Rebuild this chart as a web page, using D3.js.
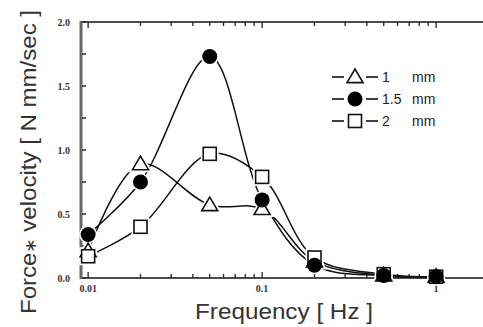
<!DOCTYPE html>
<html>
<head>
<meta charset="utf-8">
<script src="https://cdn.jsdelivr.net/npm/d3@7"></script>
<style>
  body { margin: 0; background: #fff; }
  svg { display: block; }
</style>
</head>
<body>
<div id="chart"></div>
<script>
// data
const freq = [0.01, 0.02, 0.05, 0.1, 0.2, 0.5, 1];
const mm1 = [0.21, 0.89, 0.57, 0.54, 0.13, 0.02, 0.01];
const mm15 = [0.34, 0.75, 1.73, 0.61, 0.10, 0.02, 0.01];
const mm2 = [0.17, 0.40, 0.97, 0.79, 0.16, 0.03, 0.01];
const seriesNames = ["1", "1.5", "2"];
const xTicks = [0.01, 0.1, 1];
const yTicks = [0, 0.5, 1.0, 1.5, 2.0];

const W = 483, H = 327;
const margin = {top: 22, right: 0, bottom: 50, left: 81};

const svg = d3.select("#chart").append("svg")
    .attr("width", W).attr("height", H);

const x = d3.scaleLog().domain([0.0091, 1.86]).range([margin.left, W - margin.right]);
const y = d3.scaleLinear().domain([0, 2]).range([H - margin.bottom + 1, margin.top]);

// minor ticks on log axis
const minor = [];
[0.01, 0.1, 1].forEach(d => { for (let k = 1; k < 10; k++) { const v = d * k; if (v <= 1.86) minor.push(v); } });

// bottom axis
svg.append("line").attr("x1", margin.left).attr("x2", W).attr("y1", y(0)).attr("y2", y(0))
    .attr("stroke", "#111").attr("stroke-width", 1.6);
// top axis
svg.append("line").attr("x1", margin.left).attr("x2", W).attr("y1", margin.top).attr("y2", margin.top)
    .attr("stroke", "#111").attr("stroke-width", 1.6);

svg.append("g").selectAll("line").data(minor).join("line")
    .attr("x1", d => x(d)).attr("x2", d => x(d))
    .attr("y1", y(0)).attr("y2", d => y(0) - (xTicks.includes(d) ? 6 : 4))
    .attr("stroke", "#222").attr("stroke-width", 1.3);
svg.append("g").selectAll("line").data(minor).join("line")
    .attr("x1", d => x(d)).attr("x2", d => x(d))
    .attr("y1", margin.top).attr("y2", d => margin.top + (xTicks.includes(d) ? 6 : 4))
    .attr("stroke", "#222").attr("stroke-width", 1.3);

svg.append("g").selectAll("text").data(xTicks).join("text")
    .attr("x", d => x(d)).attr("y", y(0) + 14)
    .attr("text-anchor", "middle")
    .attr("font-family", "Liberation Serif, serif").attr("font-weight", "bold")
    .attr("font-size", 10).attr("fill", "#333")
    .text(d => d);

// left axis
const yMinor = d3.range(0, 2.01, 0.25);
svg.append("g").selectAll("line").data(yMinor).join("line")
    .attr("x1", margin.left).attr("x2", margin.left + 5)
    .attr("y1", d => y(d)).attr("y2", d => y(d))
    .attr("stroke", "#222").attr("stroke-width", 1.5);
svg.append("line").attr("x1", margin.left).attr("x2", margin.left)
    .attr("y1", margin.top - 1).attr("y2", y(0) + 1)
    .attr("stroke", "#666").attr("stroke-width", 3);
svg.append("g").selectAll("text").data(yTicks).join("text")
    .attr("x", margin.left - 11).attr("y", d => y(d) + 3.5)
    .attr("text-anchor", "end")
    .attr("font-family", "Liberation Serif, serif").attr("font-weight", "bold")
    .attr("font-size", 10).attr("fill", "#333")
    .text(d => d.toFixed(1));

// axis titles
svg.append("text").attr("x", 284).attr("y", 319)
    .attr("text-anchor", "middle")
    .attr("font-family", "Liberation Sans, Arial, sans-serif")
    .attr("font-size", 22).attr("fill", "#333")
    .attr("textLength", 178).attr("lengthAdjust", "spacingAndGlyphs")
    .text("Frequency [ Hz ]");
const yt = svg.append("text")
    .attr("transform", "translate(36,162) rotate(-90)")
    .attr("text-anchor", "middle")
    .attr("font-family", "Liberation Sans, Arial, sans-serif")
    .attr("font-size", 22).attr("fill", "#333")
    .attr("textLength", 304).attr("lengthAdjust", "spacingAndGlyphs");
yt.append("tspan").text("Force");
yt.append("tspan").attr("font-size", 16).text("\u2217");
yt.append("tspan").text(" velocity [ N mm/sec ]");

// curves
const line = d3.line()
    .x(d => x(d[0])).y(d => y(d[1]))
    .curve(d3.curveCatmullRom.alpha(0.5));

const series = [
  {name: seriesNames[0], vals: mm1, shape: "tri"},
  {name: seriesNames[1], vals: mm15, shape: "circ"},
  {name: seriesNames[2], vals: mm2, shape: "sq"}
];

series.forEach(s => {
  svg.append("path")
      .datum(freq.map((f, i) => [f, s.vals[i]]))
      .attr("fill", "none").attr("stroke", "#111").attr("stroke-width", 1.5)
      .attr("d", line);
});

function marker(g, shape, cx, cy, halo) {
  const stroke = halo ? "#fff" : "#111";
  const sw = halo ? 5 : 1.6;
  if (shape === "circ") {
    g.append("circle").attr("cx", cx).attr("cy", cy).attr("r", halo ? 9 : 7.5)
        .attr("fill", halo ? "#fff" : "#000");
  } else if (shape === "sq") {
    g.append("rect").attr("x", cx - 6.5).attr("y", cy - 6.5).attr("width", 13).attr("height", 13)
        .attr("fill", "#fff").attr("stroke", stroke).attr("stroke-width", sw);
  } else {
    const r = 8;
    g.append("path")
        .attr("d", `M${cx},${cy - r}L${cx + r},${cy + r * 0.7}L${cx - r},${cy + r * 0.7}Z`)
        .attr("fill", "#fff").attr("stroke", stroke).attr("stroke-width", sw)
        .attr("stroke-linejoin", "miter");
  }
}

const mk = svg.append("g");
// halos first to make the little gaps round the markers
const order = [0, 2, 1];
order.forEach(si => {
  const s = series[si];
  freq.forEach((f, i) => marker(mk, s.shape, x(f), y(s.vals[i]), true));
});
order.forEach(si => {
  const s = series[si];
  freq.forEach((f, i) => marker(mk, s.shape, x(f), y(s.vals[i]), false));
});

// legend
const leg = svg.append("g");
series.forEach((s, i) => {
  const ly = 77 + i * 22;
  leg.append("line").attr("x1", 332).attr("x2", 344).attr("y1", ly).attr("y2", ly)
      .attr("stroke", "#111").attr("stroke-width", 1.6);
  leg.append("line").attr("x1", 366).attr("x2", 378).attr("y1", ly).attr("y2", ly)
      .attr("stroke", "#111").attr("stroke-width", 1.6);
  marker(leg, s.shape, 355, ly, false);
  leg.append("text").attr("x", 382).attr("y", ly + 5)
      .attr("font-family", "Liberation Sans, Arial, sans-serif")
      .attr("font-size", 14).attr("fill", "#222")
      .text(s.name);
  leg.append("text").attr("x", 412).attr("y", ly + 5)
      .attr("font-family", "Liberation Sans, Arial, sans-serif")
      .attr("font-size", 14).attr("fill", "#222")
      .text("mm");
});
</script>
</body>
</html>
